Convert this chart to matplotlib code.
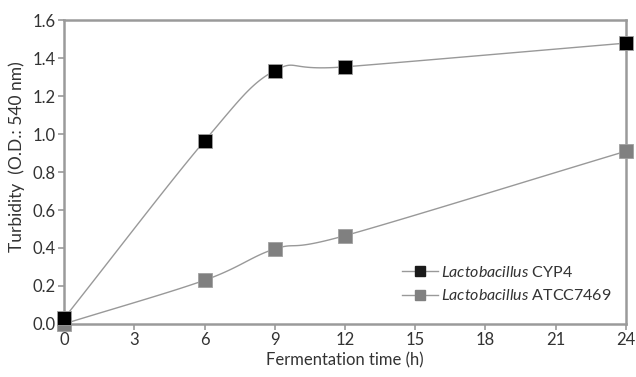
import numpy as np
import matplotlib
matplotlib.use("Agg")
import matplotlib.pyplot as plt

# Turbidity readings over fermentation time
hours = [0, 6, 9, 12, 24]
cyp4 = [0.03, 0.965, 1.335, 1.355, 1.48]
atcc7469 = [0.0, 0.23, 0.395, 0.465, 0.91]
x_ticks = [0, 3, 6, 9, 12, 15, 18, 21, 24]
y_ticks = [0.0, 0.2, 0.4, 0.6, 0.8, 1.0, 1.2, 1.4, 1.6]


# Excel-like smoothed line (Catmull-Rom through the points)
def smooth(xs, ys, n=30):
    xs = np.asarray(xs, float)
    ys = np.asarray(ys, float)
    px = np.concatenate([[2 * xs[0] - xs[1]], xs, [2 * xs[-1] - xs[-2]]])
    py = np.concatenate([[2 * ys[0] - ys[1]], ys, [2 * ys[-1] - ys[-2]]])
    out_x, out_y = [], []
    for i in range(1, len(px) - 2):
        t = np.linspace(0, 1, n)
        for p, out in ((px, out_x), (py, out_y)):
            p0, p1, p2, p3 = p[i - 1], p[i], p[i + 1], p[i + 2]
            c1 = p1 + (p2 - p0) / 6
            c2 = p2 - (p3 - p1) / 6
            out.extend((1 - t) ** 3 * p1 + 3 * (1 - t) ** 2 * t * c1
                       + 3 * (1 - t) * t ** 2 * c2 + t ** 3 * p2)
    return out_x, out_y


plt.rcParams['font.family'] = ['Lato', 'DejaVu Sans']
plt.rcParams['mathtext.fontset'] = 'custom'
plt.rcParams['mathtext.it'] = 'Lato:italic'
plt.rcParams['mathtext.rm'] = 'Lato'
text_color = '#333333'
line_color = '#999999'

fig = plt.figure(figsize=(6.36, 3.77), dpi=100)
ax = fig.add_axes([0.101, 0.141, 0.883, 0.805])

for ys, fill in ((atcc7469, '#808080'), (cyp4, '#000000')):
    sx, sy = smooth(hours, ys)
    ax.plot(sx, sy, color=line_color, lw=1.0, zorder=2)
    ax.plot(hours, ys, linestyle='none', marker='s', markersize=9.5,
            markerfacecolor=fill, markeredgecolor='#a0a0a0', markeredgewidth=0.6,
            zorder=3, clip_on=False)

# legend proxies: line through square marker
h1, = ax.plot([], [], color=line_color, lw=1.0, marker='s', markersize=7,
              markerfacecolor='#1a1a1a', markeredgecolor='#1a1a1a')
h2, = ax.plot([], [], color=line_color, lw=1.0, marker='s', markersize=7,
              markerfacecolor='#808080', markeredgecolor='#808080')
leg = ax.legend([h1, h2], ['$\\it{Lactobacillus}$ CYP4', '$\\it{Lactobacillus}$ ATCC7469'],
                loc='lower right', bbox_to_anchor=(1.0, 0.02), frameon=False,
                fontsize=11.5, handlelength=2.2, handletextpad=0.2, labelspacing=0.55,
                labelcolor=text_color)

ax.set_xlim(0, 24)
ax.set_ylim(0, 1.6)
ax.set_xticks(x_ticks)
ax.set_yticks(y_ticks)
ax.set_yticklabels([f'{v:.1f}' for v in y_ticks])

for s in ax.spines.values():
    s.set_color('#9a9a9a')
    s.set_linewidth(1.8)
ax.tick_params(axis='both', colors='#9a9a9a', labelcolor=text_color,
               labelsize=12, length=4, width=1.2, direction='out', pad=2)

ax.set_xlabel('Fermentation time (h)', fontsize=12, color=text_color, labelpad=3)
ax.set_ylabel('Turbidity  (O.D.: 540 nm)', fontsize=12.5, color=text_color)
ax.yaxis.set_label_coords(-0.07, 0.55)

fig.savefig('out.png', dpi=100)
